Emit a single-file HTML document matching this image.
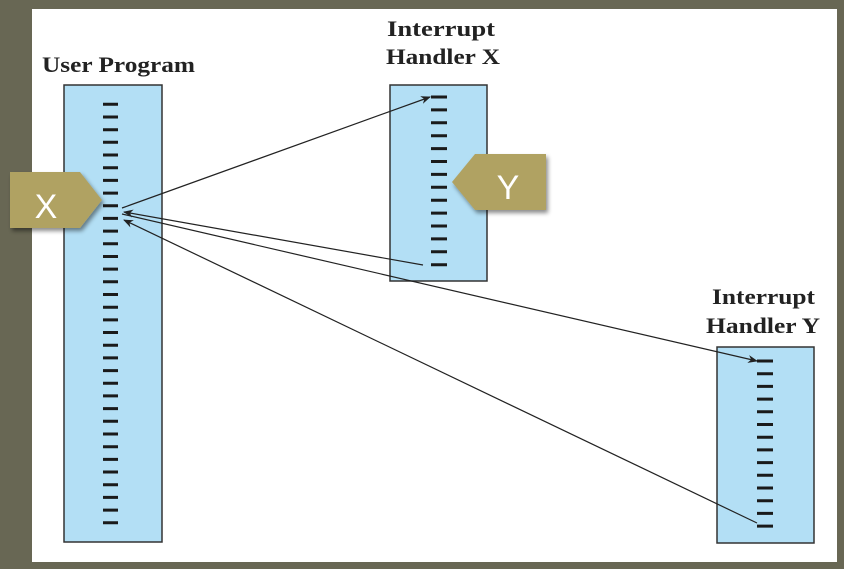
<!DOCTYPE html>
<html><head><meta charset="utf-8"><style>
html,body{margin:0;padding:0;width:844px;height:569px;overflow:hidden;background:#686754}
</style></head><body>
<svg width="844" height="569" xmlns="http://www.w3.org/2000/svg">
<defs>
<marker id="a" markerWidth="10" markerHeight="8" refX="9" refY="4" orient="auto" markerUnits="userSpaceOnUse">
<path d="M0,0 L10,4 L0,8 L3,4 Z" fill="#222"/></marker>
<filter id="sh" x="-20%" y="-20%" width="150%" height="160%"><feDropShadow dx="2" dy="3" stdDeviation="2" flood-color="#000" flood-opacity="0.45"/></filter>
</defs>
<rect x="32" y="9" width="805" height="553" fill="#fff"/>
<g font-family="Liberation Serif, serif" font-weight="bold" font-size="22" fill="#222" lengthAdjust="spacingAndGlyphs">
<text x="42" y="72" textLength="153" lengthAdjust="spacingAndGlyphs">User Program</text>
<text x="387" y="36" textLength="108" lengthAdjust="spacingAndGlyphs">Interrupt</text>
<text x="386" y="64" textLength="114" lengthAdjust="spacingAndGlyphs">Handler X</text>
<text x="712" y="304" textLength="103" lengthAdjust="spacingAndGlyphs">Interrupt</text>
<text x="706" y="333" textLength="114" lengthAdjust="spacingAndGlyphs">Handler Y</text>
</g>
<rect x="64" y="85" width="98" height="457" fill="#b3dff5" stroke="#333" stroke-width="1.5"/>
<rect x="390" y="85" width="97" height="196" fill="#b3dff5" stroke="#333" stroke-width="1.5"/>
<rect x="717" y="347" width="97" height="196" fill="#b3dff5" stroke="#333" stroke-width="1.5"/>
<path stroke="#1a1a1a" stroke-width="3" fill="none" d="
M103 104.3h15M103 117h15M103 129.7h15M103 142.3h15M103 155h15M103 167.7h15M103 180.4h15M103 193.1h15M103 205.7h15M103 218.4h15M103 231.1h15M103 243.8h15M103 256.5h15M103 269.1h15M103 281.8h15M103 294.5h15M103 307.2h15M103 319.9h15M103 332.5h15M103 345.2h15M103 357.9h15M103 370.6h15M103 383.3h15M103 395.9h15M103 408.6h15M103 421.3h15M103 434h15M103 446.7h15M103 459.4h15M103 472h15M103 484.7h15M103 497.4h15M103 510.1h15M103 522.7h15
M431 97h16M431 109.9h16M431 122.8h16M431 135.7h16M431 148.6h16M431 161.5h16M431 174.4h16M431 187.3h16M431 200.2h16M431 213.1h16M431 226h16M431 238.9h16M431 251.8h16M431 264.7h16
M757 361h16M757 373.7h16M757 386.4h16M757 399.1h16M757 411.8h16M757 424.5h16M757 437.2h16M757 449.9h16M757 462.6h16M757 475.3h16M757 488h16M757 500.7h16M757 513.4h16M757 526.1h16"/>
<g stroke="#222" stroke-width="1.2" fill="none">
<line x1="122" y1="208" x2="430" y2="97" marker-end="url(#a)"/>
<line x1="423" y1="265" x2="124" y2="212" marker-end="url(#a)"/>
<line x1="122" y1="214" x2="757" y2="361" marker-end="url(#a)"/>
<line x1="757" y1="523" x2="124" y2="220" marker-end="url(#a)"/>
</g>
<g filter="url(#sh)">
<polygon points="10,172 80,172 102,200 80,228 10,228" fill="#b0a262"/>
<polygon points="546,154 475,154 452,182 475,210 546,210" fill="#b0a262"/>
</g>
<g font-family="Liberation Sans, sans-serif" font-size="34" fill="#fff">
<text x="46" y="218" text-anchor="middle">X</text>
<text x="508" y="199" text-anchor="middle">Y</text>
</g>
</svg>
</body></html>
